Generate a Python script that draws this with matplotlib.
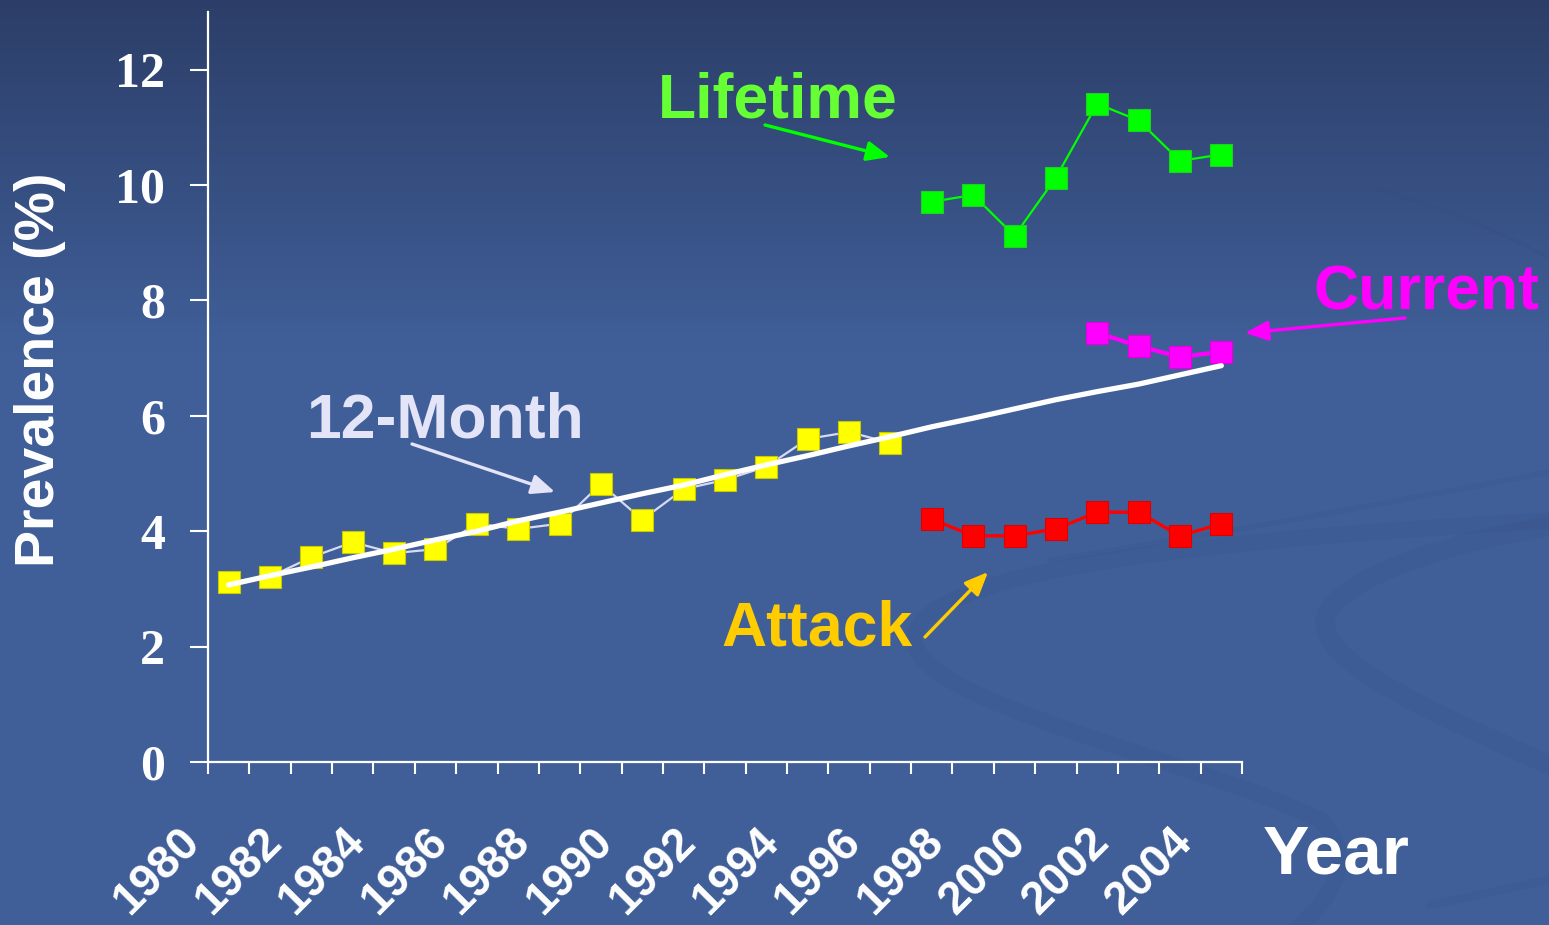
import numpy as np
import matplotlib
matplotlib.use("Agg")
import matplotlib.pyplot as plt
from matplotlib.path import Path
from matplotlib.patches import PathPatch, FancyArrowPatch

# ---- data -------------------------------------------------------------
years_all = list(range(1980, 2005))
years_12m = list(range(1980, 1997))
prev_12m = [3.12, 3.21, 3.55, 3.81, 3.62, 3.69, 4.13, 4.04, 4.13,
            4.82, 4.20, 4.73, 4.89, 5.12, 5.60, 5.72, 5.53]
trend_12m = [3.07, 3.23, 3.38, 3.54, 3.69, 3.85, 4.00, 4.18, 4.33, 4.49,
             4.65, 4.80, 4.98, 5.15, 5.31, 5.48, 5.64, 5.81, 5.96, 6.12,
             6.28, 6.42, 6.55, 6.71, 6.87]
years_lifetime = list(range(1997, 2005))
prev_lifetime = [9.71, 9.83, 9.12, 10.13, 11.41, 11.12, 10.42, 10.53]
years_attack = list(range(1997, 2005))
prev_attack = [4.21, 3.92, 3.92, 4.04, 4.33, 4.33, 3.92, 4.13]
years_current = list(range(2001, 2005))
prev_current = [7.44, 7.21, 7.02, 7.11]
tick_years = list(range(1980, 2006))
tick_labels = [str(y) if (y % 2 == 0 and y < 2005) else "" for y in tick_years]
y_ticks = [0, 2, 4, 6, 8, 10, 12]

W, H = 1549, 925
fig = plt.figure(figsize=(W / 100, H / 100), dpi=100)

# ---- slide background: vertical gradient plus soft swooshes ---------------
bg = fig.add_axes([0, 0, 1, 1], zorder=-10)
bg.set_xlim(0, W)
bg.set_ylim(H, 0)
bg.axis("off")
top = np.array([44, 62, 104]) / 255
base = np.array([64, 95, 153]) / 255
t = np.clip(np.linspace(0, 1, H) / 0.38, 0, 1)[:, None]
grad = top * (1 - t) + base * t
bg.imshow(grad[:, None, :], extent=[0, W, H, 0], aspect="auto", zorder=0)

swoosh_col = (0.20, 0.30, 0.50, 0.17)
def swoosh(verts, lw):
    codes = [Path.MOVETO] + [Path.CURVE4] * (len(verts) - 1)
    bg.add_patch(PathPatch(Path(verts, codes), fill=False, lw=lw,
                           edgecolor=swoosh_col, capstyle="round", zorder=1))

swoosh([(1560, 520), (1200, 540), (930, 570), (915, 635),
        (900, 700), (1200, 760), (1320, 820),
        (1360, 860), (1330, 900), (1290, 935)], 12)
swoosh([(1560, 525), (1420, 545), (1320, 590), (1325, 625),
        (1330, 670), (1450, 720), (1560, 770)], 14)
swoosh([(1380, 190), (1450, 210), (1510, 235), (1560, 265)], 3)
swoosh([(1430, 905), (1480, 895), (1520, 885), (1560, 878)], 6)
swoosh([(1050, 560), (1150, 545), (1300, 520), (1560, 470)], 4)

# ---- main chart ------------------------------------------------------
ax = fig.add_axes([208 / W, 1 - 762 / H, (1242 - 208) / W, (762 - 12) / H])
ax.patch.set_alpha(0)

def centers(yrs):
    return [y + 0.5 for y in yrs]

ax.plot(centers(years_12m), prev_12m, color="#d6daf2", lw=1.6, zorder=2)
ax.plot(centers(years_12m), prev_12m, "s", ms=16, mfc="#ffff00",
        mec="#c9c900", mew=0.8, zorder=3)
ax.plot(centers(years_all), trend_12m, color="white", lw=3.8,
        solid_capstyle="round", zorder=4)

ax.plot(centers(years_lifetime), prev_lifetime, "-s", color="#00ff00", lw=1.6,
        ms=16, mec="#22d022", mew=0.8, zorder=3)
ax.plot(centers(years_current), prev_current, "-s", color="#ff00ff", lw=3.0,
        ms=16, mec="#e000e0", mew=0.8, zorder=3)
ax.plot(centers(years_attack), prev_attack, "-s", color="#ff0000", lw=2.4,
        ms=16, mec="#dd0000", mew=0.8, zorder=3)

ax.set_xlim(1980, 2005)
ax.set_ylim(0, 13)
ax.set_xticks(tick_years)
ax.set_xticklabels(tick_labels)
ax.set_yticks(y_ticks)
ax.set_yticklabels([str(v) for v in y_ticks])

for side in ("top", "right"):
    ax.spines[side].set_visible(False)
for side in ("left", "bottom"):
    ax.spines[side].set_color("white")
    ax.spines[side].set_linewidth(1.6)

ax.tick_params(axis="x", direction="out", length=8.6, width=1.5,
               color="white", pad=33, labelcolor="white", labelsize=33)
ax.tick_params(axis="y", direction="out", length=13, width=1.5,
               color="white", pad=18, labelcolor="white", labelsize=36)
for lab in ax.get_xticklabels():
    lab.set_rotation(45)
    lab.set_ha("right")
    lab.set_va("top")
    lab.set_fontfamily("Liberation Sans")
    lab.set_fontweight("bold")
for lab in ax.get_yticklabels():
    lab.set_fontfamily("Liberation Serif")
    lab.set_fontweight("bold")

# ---- titles and series labels -----------------------------------------
def label(x, y, s, color, size=45, **kw):
    fig.text(x, y, s, transform=bg.transData, color=color, fontsize=size,
             fontweight="bold", family="Liberation Sans", **kw)

label(1336, 873, "Year", "white", size=50, ha="center", va="baseline")
label(40, 370, "Prevalence (%)", "white", size=40, ha="center", va="center",
      rotation=90)
label(778, 118, "Lifetime", "#66ff33", ha="center", va="baseline")
label(1426, 310, "Current", "#ff00ff", ha="center", va="baseline")
label(445, 438, "12-Month", "#e4e4f8", ha="center", va="baseline")
label(817, 645, "Attack", "#ffcc00", ha="center", va="baseline")

def arrow(p0, p1, color):
    fig.add_artist(FancyArrowPatch(
        p0, p1, transform=bg.transData, color=color, lw=2.4,
        arrowstyle="-|>,head_length=0.7,head_width=0.3", mutation_scale=20,
        shrinkA=0, shrinkB=0, zorder=5))

arrow((765, 125), (890, 157), "#00ff00")
arrow((1405, 318), (1245, 333), "#ff00ff")
arrow((412, 444), (555, 492), "#e4e4f8")
arrow((925, 637), (988, 572), "#ffcc00")

fig.savefig("out.png", dpi=100)
